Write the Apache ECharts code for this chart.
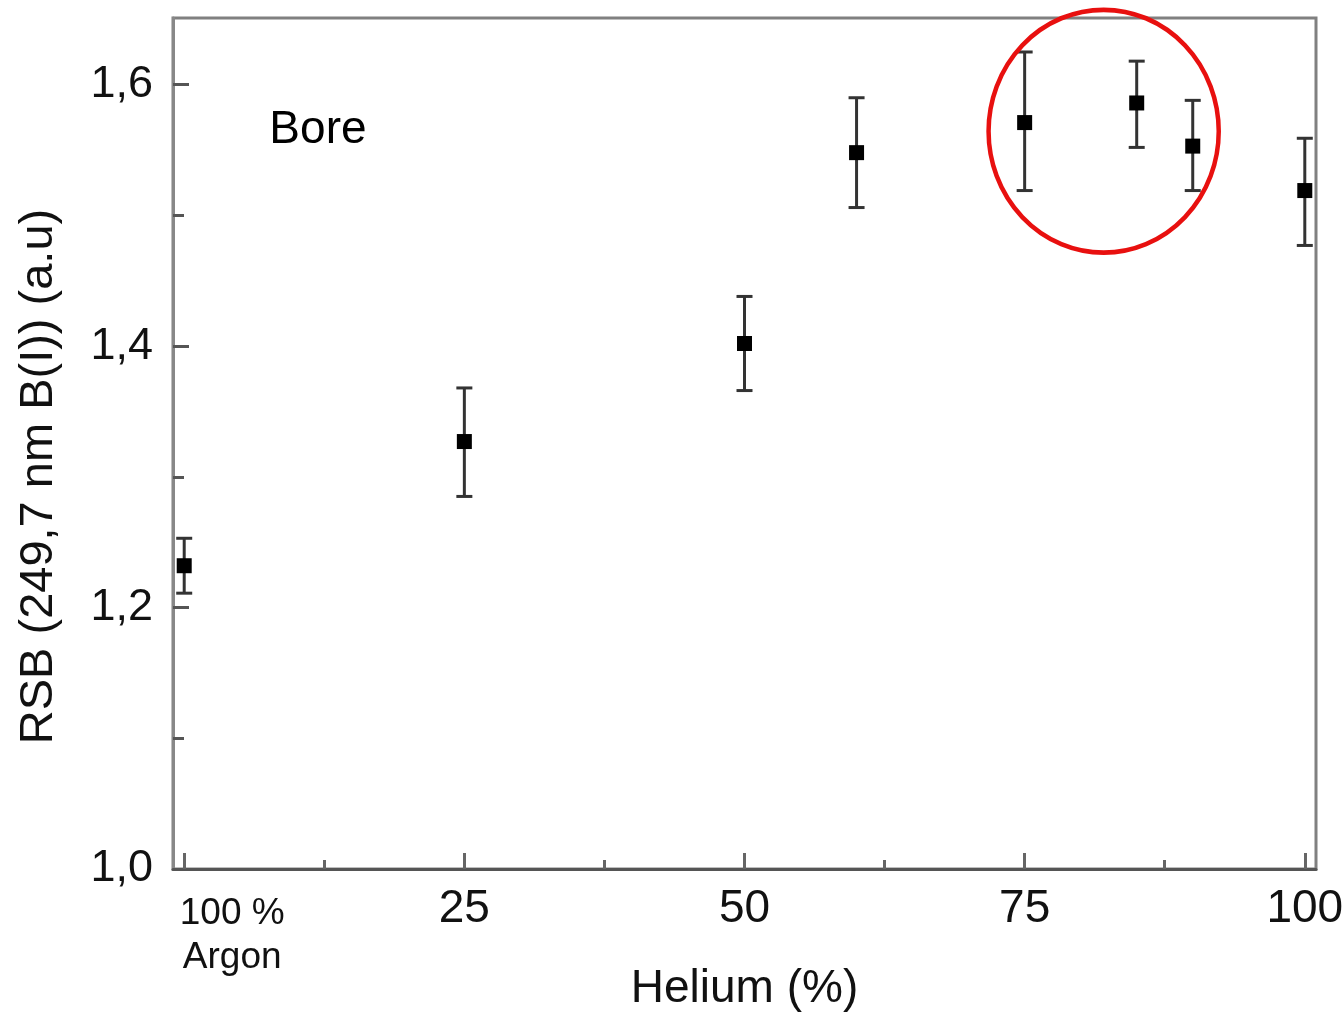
<!DOCTYPE html>
<html>
<head>
<meta charset="utf-8">
<script src="https://cdn.jsdelivr.net/npm/echarts@6/dist/echarts.min.js"></script>
<style>html,body{margin:0;padding:0;background:#fff}#c{width:1344px;height:1012px}</style>
</head>
<body>
<div id="c"></div>
<script>
// Data
const xValues = [0, 25, 50, 60, 75, 85, 90, 100];
const yValues = [1.232, 1.327, 1.402, 1.548, 1.571, 1.586, 1.553, 1.519];
const yLow    = [1.211, 1.285, 1.366, 1.506, 1.519, 1.552, 1.519, 1.477];
const yHigh   = [1.253, 1.368, 1.438, 1.590, 1.625, 1.618, 1.588, 1.559];
const xMajorTicks = [0, 25, 50, 75, 100];
const xMinorTicks = [12.5, 37.5, 62.5, 87.5];
const yMajorTicks = [1.0, 1.2, 1.4, 1.6];
const yMinorTicks = [1.1, 1.3, 1.5];
const firstXLabel = '100 %\nArgon';
const annotationText = 'Bore';
// highlighted region (data coords): centre and radii
const circleCenter = [82.05, 1.5644];
const circleRadius = [10.27, 0.0929];

const FONT = "'Liberation Sans', Arial, sans-serif";
const chart = echarts.init(document.getElementById('c'));

const points = xValues.map((x, i) => [x, yValues[i]]);
const errData = xValues.map((x, i) => [x, yLow[i], yHigh[i]]);

const option = {
  animation: false,
  grid: { left: 173, right: 28, top: 18, bottom: 143, outerBoundsMode: 'none', containLabel: false,
          show: true, borderColor: '#808080', borderWidth: 3, backgroundColor: '#fff' },
  xAxis: [{
    type: 'value', min: -1, max: 101, position: 'bottom',
    name: 'Helium (%)', nameLocation: 'middle', nameGap: 97,
    nameTextStyle: { fontFamily: FONT, fontSize: 46, color: '#111' },
    axisLine: { show: true, onZero: false, lineStyle: { color: '#555', width: 3 } },
    axisTick: { show: true, inside: true, length: 16, customValues: xMajorTicks, lineStyle: { color: '#666', width: 3 } },
    axisLabel: { show: true, customValues: xMajorTicks, margin: 17, fontFamily: FONT, fontSize: 46, color: '#111',
      formatter: v => v === 0 ? '' : String(v) },
    splitLine: { show: false }
  }, {
    type: 'value', min: -1, max: 101, position: 'bottom', offset: 0,
    axisLine: { show: false, onZero: false },
    axisTick: { show: true, inside: true, length: 9, customValues: xMinorTicks, lineStyle: { color: '#666', width: 3 } },
    axisLabel: { show: false },
    splitLine: { show: false }
  }],
  yAxis: [{
    type: 'value', min: 1.0, max: 1.651, position: 'left',
    name: 'RSB (249,7 nm B(I)) (a.u)', nameLocation: 'middle', nameGap: 110,
    nameTextStyle: { fontFamily: FONT, fontSize: 47, color: '#111', padding: [0, 66, 0, 0] },
    axisLine: { show: true, onZero: false, lineStyle: { color: '#888', width: 3 } },
    axisTick: { show: true, inside: true, length: 16, customValues: yMajorTicks, lineStyle: { color: '#555', width: 3 } },
    axisLabel: { show: true, customValues: yMajorTicks, margin: 20, fontFamily: FONT, fontSize: 45, color: '#111',
      formatter: v => v.toFixed(1).replace('.', ',') },
    splitLine: { show: false }
  }, {
    type: 'value', min: 1.0, max: 1.651, position: 'left', offset: 0,
    axisLine: { show: false, onZero: false },
    axisTick: { show: true, inside: true, length: 11, customValues: yMinorTicks, lineStyle: { color: '#555', width: 3 } },
    axisLabel: { show: false },
    splitLine: { show: false }
  }],
  series: [{
    type: 'custom',
    xAxisIndex: 0, yAxisIndex: 0,
    data: errData,
    z: 3,
    renderItem: function (params, api) {
      const x = api.value(0);
      const lo = api.coord([x, api.value(1)]);
      const hi = api.coord([x, api.value(2)]);
      const cap = 8;
      const style = { stroke: '#333', lineWidth: 3, fill: null };
      return {
        type: 'group',
        children: [
          { type: 'line', shape: { x1: lo[0], y1: lo[1], x2: hi[0], y2: hi[1] }, style },
          { type: 'line', shape: { x1: lo[0] - cap, y1: lo[1], x2: lo[0] + cap, y2: lo[1] }, style },
          { type: 'line', shape: { x1: hi[0] - cap, y1: hi[1], x2: hi[0] + cap, y2: hi[1] }, style }
        ]
      };
    }
  }, {
    type: 'scatter',
    xAxisIndex: 0, yAxisIndex: 0,
    data: points,
    symbol: 'rect', symbolSize: 15,
    itemStyle: { color: '#000', opacity: 1 },
    z: 4
  }]
};
chart.setOption(option);

// annotations anchored to data coordinates
const p0 = chart.convertToPixel({ xAxisIndex: 0, yAxisIndex: 0 }, [0, 1.0]);
const c = chart.convertToPixel({ xAxisIndex: 0, yAxisIndex: 0 }, circleCenter);
const cr = chart.convertToPixel({ xAxisIndex: 0, yAxisIndex: 0 }, [circleCenter[0] + circleRadius[0], circleCenter[1] + circleRadius[1]]);
const rx = cr[0] - c[0];
const ry = c[1] - cr[1];
const bore = chart.convertToPixel({ xAxisIndex: 0, yAxisIndex: 0 }, [7.6, 1.565]);

chart.setOption({
  graphic: [
    { type: 'text', x: p0[0] + 48, y: p0[1] + 23, z: 10,
      style: { text: firstXLabel, font: '37px ' + FONT, fill: '#111', align: 'center', verticalAlign: 'top', lineHeight: 44 } },
    { type: 'text', x: bore[0], y: bore[1], z: 10,
      style: { text: annotationText, font: '46px ' + FONT, fill: '#000', align: 'left', verticalAlign: 'middle' } },
    { type: 'circle', x: c[0], y: c[1], scaleY: ry / rx, z: 10,
      shape: { cx: 0, cy: 0, r: rx },
      style: { stroke: '#e8100f', lineWidth: 4.5, fill: null } }
  ]
});
</script>
</body>
</html>
